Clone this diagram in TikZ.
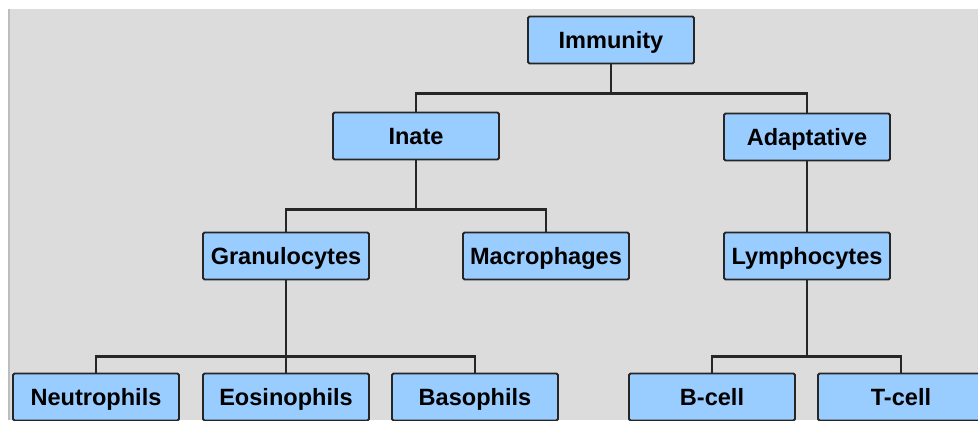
\documentclass[tikz,border=0pt]{standalone}
\usepackage{fontspec}
\setmainfont{Liberation Sans}
\definecolor{boxblue}{HTML}{99CCFF}
\definecolor{bggrey}{HTML}{DCDCDC}
\definecolor{edgegrey}{HTML}{BDBDBD}
\begin{document}
\begin{tikzpicture}[
            x=0.02cm, y=-0.02cm,
            cell/.style={draw=black!85, fill=boxblue, line width=1.1pt, rounded corners=0.8pt,
                minimum width=3.32cm, minimum height=0.94cm, inner sep=0pt,
                text height=9.5pt, text depth=0pt,
                font=\fontsize{13.4}{15}\selectfont\bfseries},
            link/.style={line width=1.2pt, draw=black!85}
            ]
            % background
            \fill[white] (0,0) rectangle (978,420);
            \fill[bggrey] (9,9) rectangle (978,420);
            \draw[edgegrey, line width=1.2pt] (9,9) -- (9,420);
            \clip (0,0) rectangle (978,420);
            % nodes
            \node[cell] (immunity) at (611, 40) {Immunity};
            \node[cell] (inate) at (416, 136) {Inate};
            \node[cell] (adaptative) at (807, 137) {Adaptative};
            \node[cell] (granulocytes) at (286, 256) {Granulocytes};
            \node[cell] (macrophages) at (546, 256) {Macrophages};
            \node[cell] (lymphocytes) at (807, 256) {Lymphocytes};
            \node[cell] (neutrophils) at (96, 397) {Neutrophils};
            \node[cell] (eosinophils) at (286, 397) {Eosinophils};
            \node[cell] (basophils) at (475, 397) {Basophils};
            \node[cell] (bcell) at (712, 397) {B-cell};
            \node[cell] (tcell) at (901, 397) {T-cell};
            % connectors
            \draw[link] (immunity.south) -- ++(0,29) -| (inate.north);
            \draw[link] (immunity.south) -- ++(0,29) -| (adaptative.north);
            \draw[link] (inate.south) -- ++(0,49) -| (granulocytes.north);
            \draw[link] (inate.south) -- ++(0,49) -| (macrophages.north);
            \draw[link] (adaptative.south) -- (lymphocytes.north);
            \draw[link] (granulocytes.south) -- ++(0,76) -| (neutrophils.north);
            \draw[link] (granulocytes.south) -- (eosinophils.north);
            \draw[link] (granulocytes.south) -- ++(0,76) -| (basophils.north);
            \draw[link] (lymphocytes.south) -- ++(0,76) -| (bcell.north);
            \draw[link] (lymphocytes.south) -- ++(0,76) -| (tcell.north);
        \end{tikzpicture}
\end{document}
